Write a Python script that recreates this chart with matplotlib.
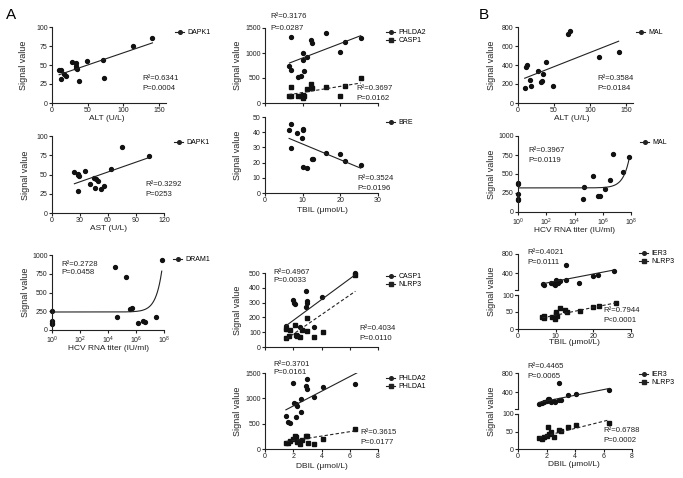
import numpy as np
import matplotlib
matplotlib.use('Agg')
import matplotlib.pyplot as plt
from matplotlib.lines import Line2D

plt.rcParams['font.family'] = ['Liberation Sans', 'DejaVu Sans']
plt.rcParams['mathtext.fontset'] = 'custom'
plt.rcParams['mathtext.rm'] = 'Liberation Sans'
plt.rcParams['mathtext.it'] = 'Liberation Sans'

W, H = 683, 478

# ---- data ----
# A: DAPK1 vs ALT
alt_a = [10, 12, 13, 17, 19, 28, 33, 33, 34, 35, 38, 49, 71, 73, 113, 141]
dapk1_alt = [44, 43, 32, 38, 36, 54, 52, 49, 46, 45, 29, 55, 57, 33, 75, 86]
dapk1_alt_fit = (34.0, 0.32)          # intercept, slope

# A: DAPK1 vs AST
ast_a = [24, 28, 28, 29, 35, 28, 41, 45, 47, 49, 46, 52, 56, 63, 75, 104]
dapk1_ast = [53, 51, 49, 48, 55, 29, 38, 45, 44, 42, 33, 31, 35, 57, 86, 74]
dapk1_ast_fit = (27.8, 0.425)

# A: DRAM1 vs HCV RNA
hcv_a = [1, 1, 1, 1, 3.2e4, 4.4e4, 1.8e5, 4e5, 5e5, 1.4e6, 3e6, 4.6e6, 2.6e7, 6.9e7]
dram1_hcv = [250, 115, 95, 80, 835, 180, 705, 285, 300, 95, 125, 110, 180, 940]
dram1_hcv_fit = (240.0, 7.9e-6)

# middle: PHLDA2 / CASP1 vs TBIL
tbil_m = [6.8, 6.5, 6.8, 10, 10, 11.1, 12.3, 12.6, 16.1, 20, 21.2, 25.4, 8.8, 9.6, 10.3]
phlda2_tbil = [1320, 747, 667, 1000, 867, 920, 1267, 1200, 1400, 1020, 1220, 1307, 520, 547, 640]
tbil_m2 = [6.8, 6.3, 6.8, 8.8, 9.6, 10, 10.3, 10, 11.1, 12.3, 12.6, 16.1, 20, 21.2, 25.4]
casp1_tbil = [320, 147, 147, 133, 133, 100, 133, 167, 280, 373, 300, 320, 147, 347, 507]
phlda2_tbil_fit = (612.0, 28.9)
casp1_tbil_fit = (87.0, 12.3)

# middle: BRE vs TBIL
tbil_bre = [6.4, 6.8, 6.8, 8.6, 9.7, 10, 10.1, 10.2, 11.1, 12.4, 12.7, 16.2, 19.9, 21.2, 25.4]
bre_tbil = [41.7, 45.7, 29.8, 39.6, 35.9, 41.7, 42.4, 17.4, 16.3, 22.2, 22.6, 26.5, 25.9, 21.3, 18.5]
bre_tbil_fit = (42.5, -1.03)

# middle: CASP1 / NLRP3 vs DBIL
dbil_c = [1.48, 2.0, 2.05, 2.1, 2.9, 3.0, 3.0, 2.9, 4.0, 6.4, 2.5, 3.5, 1.5]
casp1_dbil = [143, 317, 299, 290, 380, 310, 299, 272, 335, 500, 138, 138, 120]
dbil_n = [1.5, 1.7, 2.1, 2.2, 2.3, 2.5, 2.6, 3.0, 3.0, 3.5, 4.1, 1.5, 1.8, 6.4]
nlrp3_dbil = [60, 71, 150, 83, 71, 67, 116, 199, 105, 67, 98, 120, 116, 487]
casp1_dbil_fit = (39.0, 70.3)
nlrp3_dbil_fit = (-45.0, 65.9)

# middle: PHLDA2 / PHLDA1 vs DBIL
dbil_p = [1.48, 1.65, 1.8, 2.0, 2.07, 2.2, 2.3, 2.2, 2.55, 2.55, 2.9, 3.0, 3.0, 3.5, 4.1, 6.4]
phlda2_dbil = [661, 542, 522, 1302, 905, 879, 839, 628, 985, 733, 1236, 1381, 1183, 1018, 1216, 1289]
dbil_p1 = [1.5, 1.65, 1.8, 2.0, 2.1, 2.2, 2.3, 2.5, 2.6, 2.9, 3.0, 3.05, 3.5, 4.1, 6.4]
phlda1_dbil = [126, 112, 165, 192, 264, 245, 145, 99, 178, 258, 264, 112, 99, 205, 390]
phlda2_dbil_fit = (559.0, 145.0)
phlda1_dbil_fit = (80.0, 43.6)

# B: MAL vs ALT
alt_b = [9.3, 11.6, 13, 16.3, 18.6, 27.9, 31.6, 33.4, 34.8, 38.5, 48.8, 69.7, 72, 112, 140]
mal_alt = [157, 383, 400, 243, 181, 337, 226, 233, 306, 428, 181, 723, 758, 480, 532]
mal_alt_fit = (233.0, 2.98)

# B: MAL vs HCV RNA
hcv_b = [1, 1, 1, 1, 1, 3.7e4, 4.6e4, 1.9e5, 4.8e5, 6.3e5, 1.4e6, 3.2e6, 5e6, 2.9e7, 7.6e7]
mal_hcv = [388, 374, 233, 167, 154, 167, 330, 471, 207, 216, 300, 418, 758, 529, 718]
mal_hcv_fit = (317.0, 5.2e-6)

# B: IER3 / NLRP3 vs TBIL
tbil_b = [6.6, 6.8, 8.8, 9.6, 9.9, 10, 10.2, 10.5, 11.1, 12.7, 12.8, 16.3, 20, 21.3, 25.5]
ier3_tbil = [180, 150, 190, 170, 150, 210, 260, 200, 230, 580, 260, 200, 340, 360, 450]
tbil_b2 = [6.5, 6.9, 6.9, 8.9, 9.8, 10, 10.2, 10.4, 11.1, 12.4, 12.9, 16.4, 20, 21.6, 25.9]
nlrp3_tbil = [36, 33, 37, 36, 30, 44, 51, 39, 61, 55, 51, 53, 64, 69, 77]
ier3_tbil_fit = (82.0, 15.1)
nlrp3_tbil_fit = (18.0, 2.27)

# B: IER3 / NLRP3 vs DBIL
dbil_b = [1.48, 1.65, 1.8, 2.0, 2.1, 2.2, 2.3, 2.5, 2.6, 2.9, 3.0, 2.9, 3.5, 4.1, 6.4]
ier3_dbil = [155, 168, 187, 219, 252, 265, 200, 219, 187, 245, 232, 587, 335, 368, 445]
dbil_b2 = [1.5, 1.65, 1.8, 2.0, 2.1, 2.2, 2.3, 2.5, 2.9, 3.0, 3.5, 4.1, 6.4]
nlrp3_dbil_b = [32, 30, 35, 38, 62, 42, 50, 35, 54, 51, 64, 69, 75]
ier3_dbil_fit = (100.0, 59.0)
nlrp3_dbil_b_fit = (18.0, 10.2)

fig = plt.figure(figsize=(W / 100, H / 100), dpi=100)

INK = '#222222'
TICK = 5
XLAB = 6
YLAB = 6.5
TXT = 5.6
LEG = 5


def add_ax(l, t, r, b):
    ax = fig.add_axes([l / W, 1 - b / H, (r - l) / W, (b - t) / H])
    for s in ('top', 'right'):
        ax.spines[s].set_visible(False)
    for s in ('left', 'bottom'):
        ax.spines[s].set_linewidth(0.8)
        ax.spines[s].set_color(INK)
    ax.tick_params(length=2.5, width=0.8, labelsize=TICK, pad=0.6, colors=INK)
    ax.patch.set_alpha(0)
    return ax


def pxtext(x, y, s, size=TXT, **kw):
    fig.text(x / W, 1 - y / H, s, fontsize=size, va='center', ha='left', color=INK, **kw)


def legend(x, y, labels, markers):
    handles = [Line2D([0], [0], color=INK, lw=0.8, marker=m, ms=2.6) for m in markers]
    fig.legend(handles, labels, loc='upper left', bbox_to_anchor=(x / W, 1 - (y - 4) / H),
               frameon=False, fontsize=LEG, handlelength=1.3, handletextpad=0.5,
               labelspacing=0.2, borderpad=0, borderaxespad=0)


def scatter(ax, x, y, marker='o'):
    ax.plot(x, y, ls='', marker=marker, ms=2.8, color='#111111', clip_on=False)


def fit_line(ax, x, coef, dashed=False, log=False):
    if log:
        xs = np.logspace(np.log10(min(x)), np.log10(max(x)), 200)
    else:
        xs = np.array([min(x), max(x)])
    ax.plot(xs, coef[0] + coef[1] * xs, color=INK, lw=0.8,
            ls=(0, (3, 2)) if dashed else '-')


def ylabel(x, y, s='Signal value'):
    fig.text(x / W, 1 - y / H, s, fontsize=YLAB, rotation=90, ha='center', va='center', color=INK)


def xlabel(x, y, s):
    fig.text(x / W, 1 - y / H, s, fontsize=XLAB, ha='center', va='center', color=INK)


def log_axis(ax):
    ax.set_xscale('log')
    ax.set_xlim(1, 1e8)
    ax.set_xticks([1, 1e2, 1e4, 1e6, 1e8])
    ax.set_xticklabels([r'$10^{%d}$' % k for k in (0, 2, 4, 6, 8)])
    ax.minorticks_off()


# ---- panel A ----
ax = add_ax(52, 27, 166, 103)
scatter(ax, alt_a, dapk1_alt)
fit_line(ax, alt_a, dapk1_alt_fit)
ax.set_xlim(0, 160); ax.set_ylim(0, 100)
ax.set_xticks([0, 50, 100, 150]); ax.set_yticks([0, 25, 50, 75, 100])
ylabel(24, 65); xlabel(107, 119, 'ALT (U/L)')
pxtext(142, 79, 'R²=0.6341'); pxtext(142, 88, 'P=0.0004')
legend(175, 33, ['DAPK1'], ['o'])

ax = add_ax(52, 136, 164, 213)
scatter(ax, ast_a, dapk1_ast)
fit_line(ax, ast_a, dapk1_ast_fit)
ax.set_xlim(0, 120); ax.set_ylim(0, 100)
ax.set_xticks([0, 30, 60, 90, 120]); ax.set_yticks([0, 25, 50, 75, 100])
ylabel(26, 175); xlabel(108, 229, 'AST (U/L)')
pxtext(145, 184, 'R²=0.3292'); pxtext(145, 194, 'P=0253')
legend(174, 143, ['DAPK1'], ['o'])

ax = add_ax(52, 255, 164, 330)
scatter(ax, hcv_a, dram1_hcv)
fit_line(ax, hcv_a, dram1_hcv_fit, log=True)
log_axis(ax)
ax.set_ylim(0, 1000); ax.set_yticks([0, 250, 500, 750, 1000])
ylabel(26, 292); xlabel(108, 348, 'HCV RNA titer (IU/ml)')
pxtext(61, 264, 'R²=0.2728'); pxtext(61, 273, 'P=0.0458')
legend(173, 260, ['DRAM1'], ['o'])

# ---- middle column ----
ax = add_ax(265, 28, 378, 103)
scatter(ax, tbil_m, phlda2_tbil)
scatter(ax, tbil_m2, casp1_tbil, 's')
fit_line(ax, tbil_m, phlda2_tbil_fit)
fit_line(ax, tbil_m2, casp1_tbil_fit, dashed=True)
ax.set_xlim(0, 30); ax.set_ylim(0, 1500)
ax.set_xticks([0, 10, 20, 30]); ax.set_xticklabels([])
ax.set_yticks([0, 500, 1000, 1500])
ylabel(238, 65)
pxtext(270, 17, 'R²=0.3176'); pxtext(270, 28, 'P=0.0287')
pxtext(356, 88, 'R²=0.3697'); pxtext(356, 98, 'P=0.0162')
legend(386, 33, ['PHLDA2', 'CASP1'], ['o', 's'])

ax = add_ax(265, 117, 378, 193)
scatter(ax, tbil_bre, bre_tbil)
fit_line(ax, tbil_bre, bre_tbil_fit)
ax.set_xlim(0, 30); ax.set_ylim(0, 50)
ax.set_xticks([0, 10, 20, 30]); ax.set_yticks([0, 10, 20, 30, 40, 50])
ylabel(238, 155); xlabel(322, 211, 'TBIL (μmol/L)')
pxtext(357, 179, 'R²=0.3524'); pxtext(357, 189, 'P=0.0196')
legend(386, 123, ['BRE'], ['o'])

ax = add_ax(265, 273, 378, 347)
scatter(ax, dbil_c, casp1_dbil)
scatter(ax, dbil_n, nlrp3_dbil, 's')
fit_line(ax, dbil_c, casp1_dbil_fit)
fit_line(ax, dbil_n, nlrp3_dbil_fit, dashed=True)
ax.set_xlim(0, 8); ax.set_ylim(0, 500)
ax.set_xticks([0, 2, 4, 6, 8]); ax.set_xticklabels([])
ax.set_yticks([0, 100, 200, 300, 400, 500])
ylabel(238, 310)
pxtext(273, 272, 'R²=0.4967'); pxtext(273, 281, 'P=0.0033')
pxtext(359, 329, 'R²=0.4034'); pxtext(359, 338, 'P=0.0110')
legend(386, 277, ['CASP1', 'NLRP3'], ['o', 's'])

ax = add_ax(265, 373, 378, 449)
scatter(ax, dbil_p, phlda2_dbil)
scatter(ax, dbil_p1, phlda1_dbil, 's')
fit_line(ax, [min(dbil_p), 6.5], phlda2_dbil_fit)
fit_line(ax, [min(dbil_p1), 6.5], phlda1_dbil_fit, dashed=True)
ax.set_xlim(0, 8); ax.set_ylim(0, 1500)
ax.set_xticks([0, 2, 4, 6, 8]); ax.set_yticks([0, 500, 1000, 1500])
ylabel(238, 411); xlabel(322, 467, 'DBIL (μmol/L)')
pxtext(273, 364, 'R²=0.3701'); pxtext(273, 373, 'P=0.0161')
pxtext(360, 433, 'R²=0.3615'); pxtext(360, 442, 'P=0.0177')
legend(386, 379, ['PHLDA2', 'PHLDA1'], ['o', 's'])

# ---- panel B ----
ax = add_ax(518, 27, 633, 103)
scatter(ax, alt_b, mal_alt)
fit_line(ax, alt_b, mal_alt_fit)
ax.set_xlim(0, 160); ax.set_ylim(0, 800)
ax.set_xticks([0, 50, 100, 150]); ax.set_yticks([0, 200, 400, 600, 800])
ylabel(492, 65); xlabel(572, 118, 'ALT (U/L)')
pxtext(597, 79, 'R²=0.3584'); pxtext(597, 88, 'P=0.0184')
legend(636, 33, ['MAL'], ['o'])

ax = add_ax(518, 136, 631, 212)
scatter(ax, hcv_b, mal_hcv)
fit_line(ax, hcv_b, mal_hcv_fit, log=True)
log_axis(ax)
ax.set_ylim(0, 1000); ax.set_yticks([0, 250, 500, 750, 1000])
ylabel(492, 174); xlabel(574, 231, 'HCV RNA titer (IU/ml)')
pxtext(528, 150, 'R²=0.3967'); pxtext(528, 160, 'P=0.0119')
legend(640, 143, ['MAL'], ['o'])


def broken(top, cut, low_top, low_bot, x_hi, xs1, ys1, f1, xs2, ys2, f2, xticks, xmax):
    up = add_ax(518, top, x_hi, cut)
    lo = add_ax(518, low_top, x_hi, low_bot)
    scatter(up, xs1, ys1)
    fit_line(up, xs1, f1)
    up.set_xlim(0, xmax); up.set_ylim(50, 800)
    up.set_yticks([400, 800])
    up.spines['bottom'].set_visible(False)
    up.tick_params(axis='x', bottom=False, labelbottom=False)
    scatter(lo, xs2, ys2, 's')
    fit_line(lo, xs2, f2, dashed=True)
    lo.set_xlim(0, xmax); lo.set_ylim(0, 100)
    lo.set_yticks([0, 50, 100]); lo.set_xticks(xticks)
    for a, yy in ((up, 0), (lo, 1)):
        a.plot([-0.03, 0.0], [yy, yy], transform=a.transAxes,
               color=INK, lw=0.8, clip_on=False)
    return up, lo


broken(254, 290, 295, 329, 631, tbil_b, ier3_tbil, ier3_tbil_fit,
       tbil_b2, nlrp3_tbil, nlrp3_tbil_fit, [0, 10, 20, 30], 30)
ylabel(492, 291); xlabel(574, 343, 'TBIL (μmol/L)')
pxtext(527, 253, 'R²=0.4021'); pxtext(527, 263, 'P=0.0111')
pxtext(603, 311, 'R²=0.7944'); pxtext(603, 320, 'P<0.0001')
legend(639, 254, ['IER3', 'NLRP3'], ['o', 's'])

broken(373, 409, 414, 449, 632, dbil_b, ier3_dbil, ier3_dbil_fit,
       dbil_b2, nlrp3_dbil_b, nlrp3_dbil_b_fit, [0, 2, 4, 6, 8], 8)
ylabel(492, 411); xlabel(574, 465, 'DBIL (μmol/L)')
pxtext(527, 366, 'R²=0.4465'); pxtext(527, 376, 'P=0.0065')
pxtext(603, 430, 'R²=0.6788'); pxtext(603, 440, 'P=0.0002')
legend(639, 375, ['IER3', 'NLRP3'], ['o', 's'])

fig.text(6 / W, 1 - 15 / H, 'A', fontsize=11, va='center', ha='left')
fig.text(479 / W, 1 - 15 / H, 'B', fontsize=11, va='center', ha='left')

fig.savefig('out.png', dpi=100)
